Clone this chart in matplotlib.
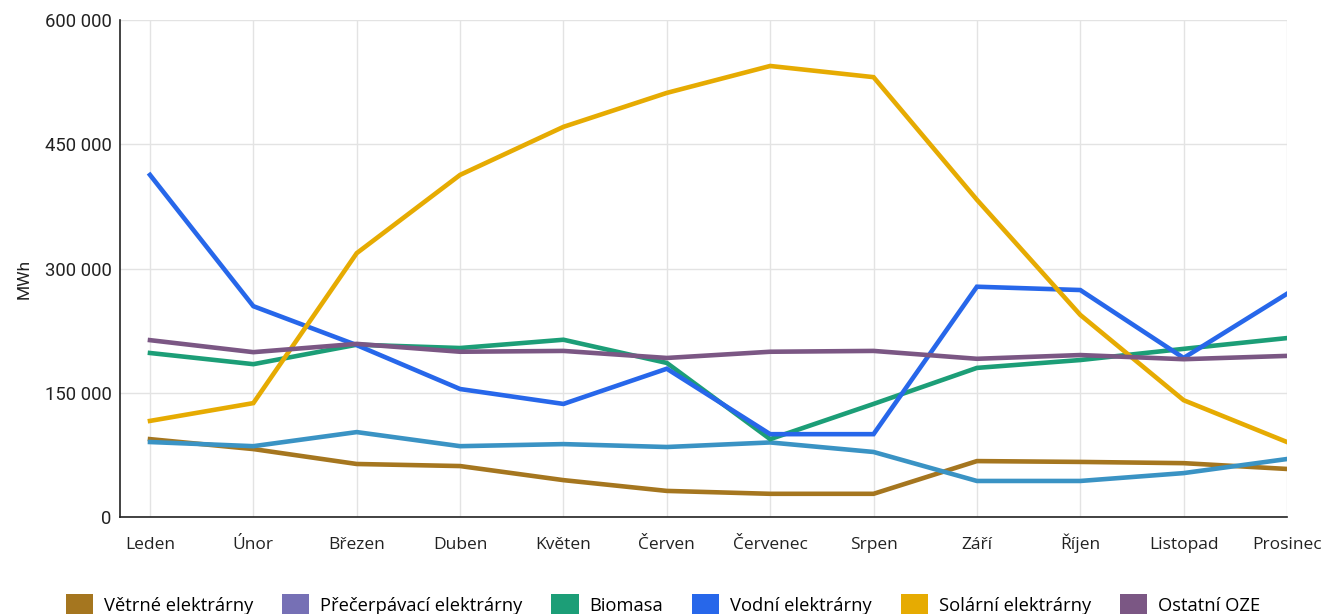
import matplotlib
matplotlib.use("Agg")
import matplotlib.pyplot as plt
from matplotlib.patches import Patch
from matplotlib.ticker import FuncFormatter

months = ["Leden", "Únor", "Březen", "Duben", "Květen", "Červen",
          "Červenec", "Srpen", "Září", "Říjen", "Listopad", "Prosinec"]

vetrne = [94000, 82000, 64000, 61500, 44500, 31500, 28000, 28000, 67500, 66500, 65000, 58000]
precerpavaci = [90500, 85500, 102500, 85500, 88000, 84500, 90000, 78500, 43500, 43500, 53000, 70000]
biomasa = [198000, 184500, 208000, 204000, 214000, 186000, 94000, 136500, 180000, 189500, 203000, 216000]
vodni = [413000, 254500, 207500, 154500, 136500, 179000, 100000, 100000, 278000, 274000, 192000, 269500]
solarni = [116000, 137500, 318500, 413000, 471000, 512000, 544500, 531000, 383000, 244000, 141000, 90500]
ostatni = [213500, 199000, 209000, 199500, 200500, 192000, 199500, 200500, 191000, 195500, 190500, 194500]

legend_labels = ["Větrné elektrárny", "Přečerpávací elektrárny", "Biomasa",
                 "Vodní elektrárny", "Solární elektrárny", "Ostatní OZE"]
legend_colors = ["#a5761f", "#7670b5", "#1c9e77", "#2767ea", "#e6ab02", "#7b5784"]

series = [
    (vetrne, "#a5761f"),
    (precerpavaci, "#3a93c4"),
    (biomasa, "#1c9e77"),
    (vodni, "#2767ea"),
    (solarni, "#e6ab02"),
    (ostatni, "#7b5784"),
]

fig = plt.figure(figsize=(13.26, 6.14), dpi=100)
ax = fig.add_axes([120 / 1326, 1 - 517 / 614, (1287 - 120) / 1326, (517 - 20) / 614])

x = list(range(len(months)))
for values, color in series:
    ax.plot(x, values, color=color, linewidth=3.3, solid_joinstyle="miter", zorder=3)

ax.set_xlim(-30 / 103.4, 11)
ax.set_ylim(0, 600000)
ax.set_yticks([0, 150000, 300000, 450000, 600000])
ax.yaxis.set_major_formatter(FuncFormatter(lambda v, p: f"{int(v):,}".replace(",", " ")))
ax.set_xticks(x)
ax.set_xticklabels(months, fontfamily="Open Sans", fontsize=12.5, color="#222222")
for lab in ax.get_xticklabels():
    lab.set_verticalalignment("baseline")
for lab in ax.get_yticklabels():
    lab.set_fontfamily("Roboto")
    lab.set_fontsize(13.3)
    lab.set_color("#222222")

ax.grid(True, color="#e3e3e3", linewidth=1.0, zorder=0)
ax.set_axisbelow(True)
for side in ["top", "right"]:
    ax.spines[side].set_visible(False)
for side in ["left", "bottom"]:
    ax.spines[side].set_color("#222222")
    ax.spines[side].set_linewidth(1.2)
ax.tick_params(axis="y", length=0, pad=6)
ax.tick_params(axis="x", length=0, pad=23)

ax.set_ylabel("MWh", fontfamily="Roboto", fontsize=12.5, color="#222222", labelpad=10)
ax.yaxis.set_label_coords(-88 / 1167, 0.48)

handles = [Patch(facecolor=c, edgecolor="none") for c in legend_colors]
fig.legend(handles, legend_labels, loc="lower center", ncol=6, frameon=False,
           bbox_to_anchor=(0.5, -0.03), prop={"family": "Open Sans", "size": 13.2},
           handlelength=1.5, handleheight=1.5, handletextpad=0.6, columnspacing=1.55)

fig.savefig("out.png", dpi=100)
